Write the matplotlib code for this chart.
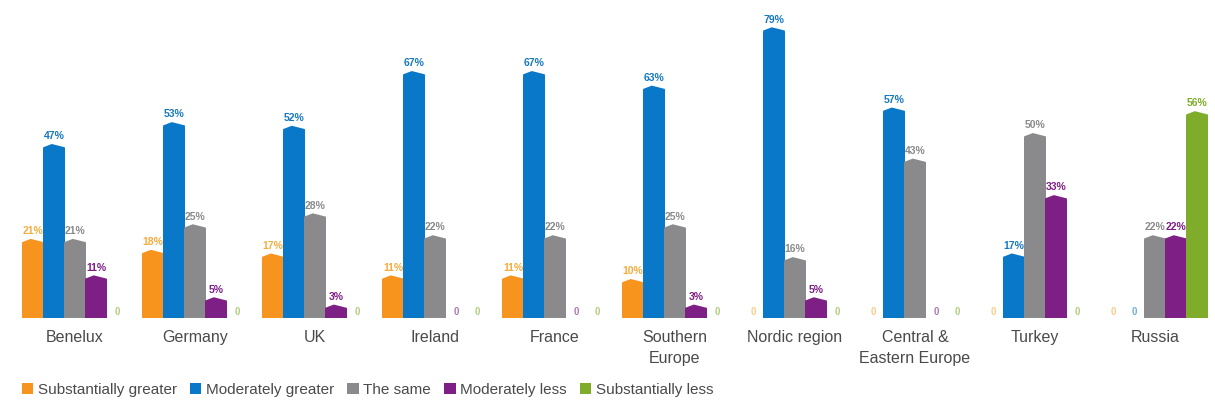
import numpy as np
import matplotlib
matplotlib.use("Agg")
import matplotlib.pyplot as plt
from matplotlib.patches import Patch

plt.rcParams['font.family'] = ['Liberation Sans', 'DejaVu Sans']

regions = ["Benelux", "Germany", "UK", "Ireland", "France", "Southern\nEurope",
           "Nordic region", "Central &\nEastern Europe", "Turkey", "Russia"]
series_names = ["Substantially greater", "Moderately greater", "The same",
                "Moderately less", "Substantially less"]

substantially_greater = [21, 18, 17, 11, 11, 10, 0, 0, 0, 0]
moderately_greater = [47, 53, 52, 67, 67, 63, 79, 57, 17, 0]
the_same = [21, 25, 28, 22, 22, 25, 16, 43, 50, 22]
moderately_less = [11, 5, 3, 0, 0, 3, 5, 0, 33, 22]
substantially_less = [0, 0, 0, 0, 0, 0, 0, 0, 0, 56]

colors = ["#F7941D", "#0A78C8", "#8A8A8C", "#7E1F86", "#7FAD2B"]
label_colors = ["#F5AC3E", "#1679C0", "#8A8A8C", "#7E1F86", "#7FAD2B"]

all_series = [substantially_greater, moderately_greater, the_same,
              moderately_less, substantially_less]

fig = plt.figure(figsize=(12.15, 4.07), dpi=100)
ax = fig.add_axes([0, 0.219, 1, 0.762])

x = np.arange(len(regions))
slot = 0.175
w = slot * 1.04
cap = 1.3  # little pointed top on each bar
for k, values in enumerate(all_series):
    pos = x + (k - 2) * slot
    for xi, v in zip(pos, values):
        if v > 0:
            ax.bar(xi, v - cap / 2, width=w, color=colors[k], linewidth=0)
            ax.fill([xi - w / 2, xi - w / 2, xi - w * 0.1, xi + w / 2, xi + w / 2],
                    [v - cap / 2 - 0.2, v - cap * 0.2, v + cap / 2, v - cap * 0.2, v - cap / 2 - 0.2],
                    color=colors[k], linewidth=0)
            ax.text(xi, v + 1.4, "%d%%" % v, ha="center", va="bottom",
                    fontsize=7.5, fontweight="bold", color=label_colors[k])
        else:
            ax.text(xi, 0.3, "0", ha="center", va="bottom", fontsize=7,
                    color=label_colors[k], alpha=0.6, fontweight="bold")

for xi, name in zip(x, regions):
    ax.text(xi, -3.3, name, ha="center", va="top", fontsize=11.5,
            color="#4a4a4a", linespacing=1.5)

ax.set_xlim(-0.625, 9.5)
ax.set_ylim(0, 85)
ax.axis("off")

handles = [Patch(facecolor=c, edgecolor="none") for c in colors]
fig.legend(handles, series_names, loc="center left", bbox_to_anchor=(0.018, 0.042),
           ncol=5, frameon=False, fontsize=11, handlelength=0.75, handleheight=0.75,
           handletextpad=0.3, columnspacing=0.85, labelcolor="#4a4a4a", borderaxespad=0,
           borderpad=0)

plt.savefig("out.png", dpi=100)
